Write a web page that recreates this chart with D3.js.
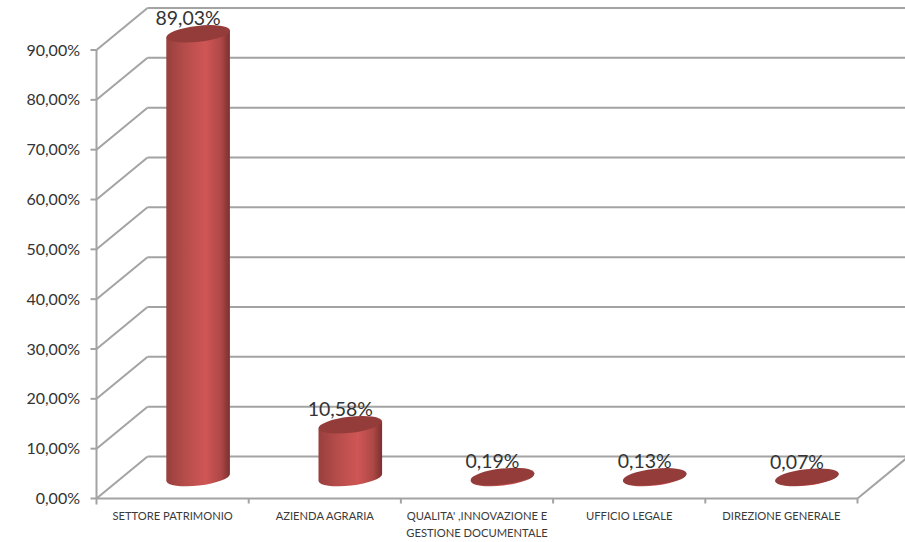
<!DOCTYPE html>
<html>
<head>
<meta charset="utf-8">
<script src="https://cdnjs.cloudflare.com/ajax/libs/d3/7.8.5/d3.min.js"></script>
<style>
html, body { margin: 0; padding: 0; background: #fff; }
svg { display: block; }
text { font-family: Lato, "Open Sans", sans-serif; }
</style>
</head>
<body>
<svg id="chart" width="905" height="542"></svg>
<script>
const categories = ["SETTORE PATRIMONIO", "AZIENDA AGRARIA", "QUALITA' ,INNOVAZIONE E|GESTIONE DOCUMENTALE", "UFFICIO LEGALE", "DIREZIONE GENERALE"];
const values = [89.03, 10.58, 0.19, 0.13, 0.07];
const tickValues = [0, 10, 20, 30, 40, 50, 60, 70, 80, 90];

const svg = d3.select("#chart");
const fmt = v => v.toFixed(2).replace(".", ",") + "%";

const x = d3.scaleBand().domain(categories).range([96.5, 857.5]);
const y = d3.scaleLinear().domain([0, 90]).range([498.5, 50]);

// 3d depth of the chart floor
const depthX = 51, depthY = 42;
const gridColor = "#a3a3a3";

const defs = svg.append("defs");
const grad = defs.append("linearGradient").attr("id", "cyl");
[[0, "#983f3d"], [0.3, "#b64d4b"], [0.62, "#cf5655"], [0.86, "#ad4846"], [1, "#7c2f2e"]].forEach(s => {
	grad.append("stop").attr("offset", s[0]).attr("stop-color", s[1]);
});

const grid = svg.append("g")
	.attr("fill", "none")
	.attr("stroke", gridColor)
	.attr("stroke-width", 2);

// back wall lines and left wall diagonals
tickValues.forEach(t => {
	grid.append("line")
		.attr("x1", x.range()[0] + depthX).attr("x2", 905)
		.attr("y1", y(t) - depthY).attr("y2", y(t) - depthY);
	grid.append("line")
		.attr("x1", x.range()[0]).attr("x2", x.range()[0] + depthX)
		.attr("y1", y(t)).attr("y2", y(t) - depthY);
	grid.append("line")
		.attr("x1", x.range()[0] - 6).attr("x2", x.range()[0])
		.attr("y1", y(t)).attr("y2", y(t));
});

// front axes
grid.append("line").attr("x1", x.range()[0]).attr("x2", x.range()[0]).attr("y1", y(0) + 6).attr("y2", y(90));
grid.append("line").attr("x1", x.range()[0]).attr("x2", x.range()[1]).attr("y1", y(0)).attr("y2", y(0));
grid.append("line")
	.attr("x1", x.range()[1]).attr("x2", x.range()[1] + depthX)
	.attr("y1", y(0)).attr("y2", y(0) - depthY);
categories.forEach(c => {
	grid.append("line")
		.attr("x1", x(c) + x.bandwidth()).attr("x2", x(c) + x.bandwidth())
		.attr("y1", y(0)).attr("y2", y(0) + 5);
});

// y labels
svg.append("g").selectAll("text")
	.data(tickValues)
	.join("text")
	.attr("x", 80)
	.attr("y", d => y(d) + 5.5)
	.attr("text-anchor", "end")
	.attr("font-size", 16)
	.attr("fill", "#333")
	.text(fmt);

// cylinders
const rx = 32, ry = 8, tilt = -6.5;
const dx = rx * Math.cos(tilt * Math.PI / 180);
const dy = rx * Math.sin(tilt * Math.PI / 180);

const bars = svg.append("g").selectAll("g")
	.data(values)
	.join("g");

bars.append("path")
	.attr("fill", "url(#cyl)")
	.attr("d", (d, i) => {
		const cx = x(categories[i]) + x.bandwidth() / 2 + depthX / 2;
		const top = y(d) - depthY / 2;
		const base = y(0) - depthY / 2;
		return `M${cx - dx},${top - dy}L${cx - dx},${base - dy}` +
			`A${rx},${ry} ${tilt} 0 0 ${cx + dx},${base + dy}` +
			`L${cx + dx},${top + dy}Z`;
	});

bars.append("ellipse")
	.attr("fill", "#943c3a")
	.attr("rx", rx)
	.attr("ry", ry)
	.attr("transform", (d, i) => {
		const cx = x(categories[i]) + x.bandwidth() / 2 + depthX / 2;
		return `translate(${cx},${y(d) - depthY / 2}) rotate(${tilt})`;
	});

bars.append("text")
	.attr("x", (d, i) => x(categories[i]) + x.bandwidth() / 2 + depthX / 2 - 10)
	.attr("y", d => y(d) - depthY / 2 - 8.5)
	.attr("text-anchor", "middle")
	.attr("font-size", 19.5)
	.attr("fill", "#333")
	.text(fmt);

// category labels
const catLabels = svg.append("g").selectAll("text")
	.data(categories)
	.join("text")
	.attr("text-anchor", "middle")
	.attr("font-size", 11.2)
	.attr("fill", "#3a3a3a");

catLabels.selectAll("tspan")
	.data(d => d.split("|").map(line => ({ line, c: d })))
	.join("tspan")
	.attr("x", d => x(d.c) + x.bandwidth() / 2)
	.attr("y", (d, i) => 520 + i * 17)
	.text(d => d.line);
</script>
</body>
</html>
